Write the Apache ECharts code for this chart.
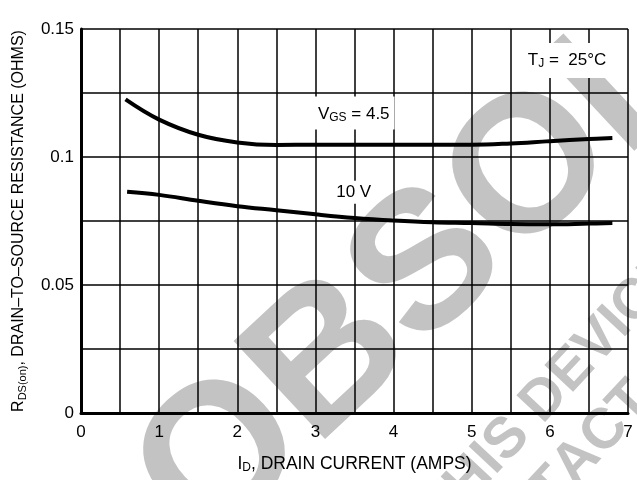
<!DOCTYPE html>
<html>
<head>
<meta charset="utf-8">
<script src="https://cdn.jsdelivr.net/npm/echarts@6/dist/echarts.min.js"></script>
<style>html,body{margin:0;padding:0;background:#fff}#c{width:637px;height:480px}</style>
</head>
<body>
<div id="c"></div>
<script>
// Drain current (A)
const vgs45X = [0.57, 1.0, 1.5, 2.0, 2.5, 3.0, 3.5, 4.0, 4.5, 5.0, 5.5, 6.0, 6.5, 6.8];
const vgs45Y = [0.1225, 0.1146, 0.1087, 0.1057, 0.1047, 0.1048, 0.1048, 0.1048, 0.1048, 0.1048, 0.1053, 0.1062, 0.1070, 0.1074];
const vgs10X = [0.59, 1.0, 1.5, 2.0, 2.5, 3.0, 3.5, 4.0, 4.5, 5.0, 5.5, 6.0, 6.5, 6.8];
const vgs10Y = [0.0864, 0.0852, 0.0829, 0.0808, 0.0792, 0.0776, 0.0762, 0.0752, 0.0745, 0.0742, 0.0738, 0.0737, 0.0740, 0.0742];
const xTickLabels = ['0', '1', '2', '3', '4', '5', '6', '7'];
const yTickLabels = { '0': '0', '0.05': '0.05', '0.1': '0.1', '0.15': '0.15' };

const FONT = '"Liberation Sans", Arial, sans-serif';
const WM = '#c3c3c3';
const WMFONT_BIG = 'bold 195px "Liberation Sans", Arial, sans-serif';
const WMFONT_SMALL = 'bold 57px "Liberation Sans", Arial, sans-serif';
const d2r = Math.PI / 180;

const chart = echarts.init(document.getElementById('c'), null, { renderer: 'canvas' });

function pairs(xs, ys) { return xs.map((x, i) => [x, ys[i]]); }
function wmText(text, x, y, font, align) {
  return { type: 'text', x: x, y: y, z: -10,
    style: { text: text, font: font, fill: WM, textAlign: align, textVerticalAlign: 'middle', align: align, verticalAlign: 'middle' } };
}

const sub = { fontSize: 12, fontFamily: FONT, color: '#000', padding: [7, 0, 0, 0] };
const lbl = { fontSize: 17, fontFamily: FONT, color: '#000' };
const axSub = { fontSize: 12, fontFamily: FONT, color: '#000', padding: [7, 0, 0, 0] };
const xName = { fontSize: 17.5, fontFamily: FONT, color: '#000' };
const yName = { fontSize: 16, fontFamily: FONT, color: '#000' };
const ySub = { fontSize: 11, fontFamily: FONT, color: '#000', padding: [7, 0, 0, 0] };

chart.setOption({
  animation: false,
  backgroundColor: '#fff',
  graphic: [
    {
      type: 'group', x: 168, y: 512, rotation: 43 * d2r, z: -10, silent: true,
      children: [ wmText('OBSOLETE', 0, 0, WMFONT_BIG, 'left') ]
    },
    {
      type: 'group', x: 531, y: 414, rotation: 47 * d2r, z: -10, silent: true,
      children: [
        wmText('THIS', -16, 0, WMFONT_SMALL, 'right'),
        wmText('DEVICE IS NOT RECOMMENDED', 0, 0, WMFONT_SMALL, 'left'),
        wmText('PLEASE CONT', -24, 66, WMFONT_SMALL, 'right'),
        wmText('ACT YOUR', -24, 66, WMFONT_SMALL, 'left')
      ]
    }
  ],
  grid: { left: 81, right: 9, top: 29, bottom: 67, show: false },
  xAxis: {
    type: 'value', min: 0, max: 7, interval: 0.5,
    name: '{m|I}{s|D}{m|, DRAIN CURRENT (AMPS)}',
    nameLocation: 'middle', nameGap: 42,
    nameTextStyle: { rich: { m: xName, s: axSub } },
    axisLine: { show: true, onZero: false, lineStyle: { color: '#000', width: 3 } },
    axisTick: { show: false },
    splitLine: { show: true, lineStyle: { color: '#000', width: 1.5 } },
    axisLabel: {
      margin: 11, color: '#000', fontSize: 17, fontFamily: FONT,
      formatter: v => (Math.abs(v - Math.round(v)) < 1e-9 ? xTickLabels[Math.round(v)] : '')
    }
  },
  yAxis: {
    type: 'value', min: 0, max: 0.15, interval: 0.025,
    name: '{m|R}{s|DS(on)}{m|, DRAIN\u2013TO\u2013SOURCE RESISTANCE (OHMS)}',
    nameLocation: 'middle', nameGap: 53, nameRotate: 90,
    nameTextStyle: { rich: { m: yName, s: ySub } },
    axisLine: { show: true, onZero: false, lineStyle: { color: '#000', width: 3 } },
    axisTick: { show: false },
    splitLine: { show: true, lineStyle: { color: '#000', width: 1.5 } },
    axisLabel: {
      margin: 7, color: '#000', fontSize: 17, fontFamily: FONT,
      formatter: v => { const k = String(+v.toFixed(3)); return yTickLabels[k] !== undefined ? yTickLabels[k] : ''; }
    }
  },
  series: [
    {
      type: 'line', name: 'VGS = 4.5', data: pairs(vgs45X, vgs45Y), smooth: 0.4, showSymbol: false,
      lineStyle: { color: '#000', width: 4 }, z: 5,
      markPoint: {
        symbol: 'rect', symbolSize: 0, silent: true,
        label: { show: true, position: 'inside', backgroundColor: '#fff', padding: [8, 5, 6, 5],
                 formatter: '{m|V}{s|GS}{m| = 4.5}', rich: { m: lbl, s: sub } },
        data: [{ coord: [3.49, 0.1172] }]
      }
    },
    {
      type: 'line', name: '10 V', data: pairs(vgs10X, vgs10Y), smooth: 0.4, showSymbol: false,
      lineStyle: { color: '#000', width: 4 }, z: 5,
      markPoint: {
        symbol: 'rect', symbolSize: 0, silent: true,
        label: { show: true, position: 'inside', backgroundColor: '#fff', padding: [3, 4, 3, 4],
                 formatter: '{m|10 V}', rich: { m: lbl } },
        data: [{ coord: [3.49, 0.0862] }]
      }
    },
    {
      type: 'line', data: [], showSymbol: false, z: 5,
      markPoint: {
        symbol: 'rect', symbolSize: 0, silent: true,
        label: { show: true, position: 'inside', backgroundColor: '#fff', padding: [8, 8, 8, 8],
                 formatter: '{m|T}{s|J}{m| =  25°C}', rich: { m: lbl, s: sub } },
        data: [{ coord: [6.22, 0.1377] }]
      }
    }
  ]
});
</script>
</body>
</html>
